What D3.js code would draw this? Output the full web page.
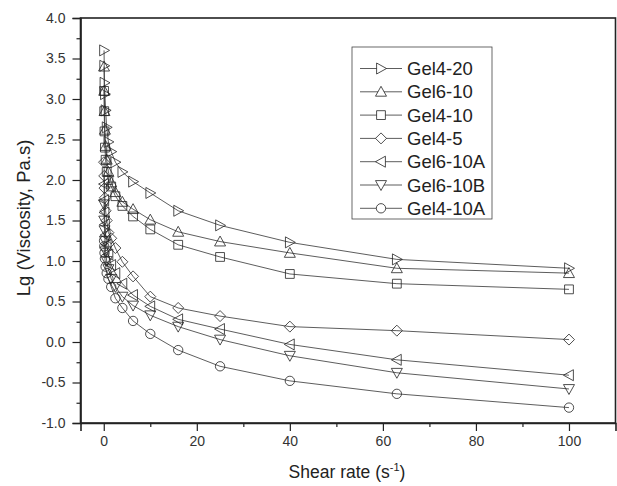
<!DOCTYPE html>
<html>
<head>
<meta charset="utf-8">
<script src="https://cdn.jsdelivr.net/npm/d3@7"></script>
<style>
  body { margin: 0; background: #fff; }
  svg { display: block; font-family: "Liberation Sans", Arial, sans-serif; }
</style>
</head>
<body>
<div id="chart"></div>
<script>
// shear rates (s^-1), shared by all samples
const shearRates = [0.063, 0.1, 0.16, 0.25, 0.4, 0.63, 1, 1.6, 2.5, 4, 6.3, 10, 16, 25, 40, 63, 100];

// lg(viscosity) for each sample
const gel4_20  = [3.60, 3.41, 3.20, 3.06, 2.86, 2.65, 2.47, 2.35, 2.22, 2.10, 1.98, 1.84, 1.62, 1.44, 1.23, 1.02, 0.91];
const gel6_10  = [3.40, 3.10, 2.85, 2.62, 2.42, 2.25, 2.10, 1.97, 1.85, 1.73, 1.64, 1.51, 1.36, 1.24, 1.10, 0.91, 0.85];
const gel4_10  = [3.10, 2.85, 2.60, 2.40, 2.25, 2.10, 2.00, 1.92, 1.80, 1.68, 1.55, 1.39, 1.20, 1.05, 0.84, 0.72, 0.65];
const gel4_5   = [2.22, 2.05, 1.90, 1.78, 1.62, 1.50, 1.35, 1.28, 1.16, 0.99, 0.81, 0.56, 0.42, 0.32, 0.19, 0.14, 0.03];
const gel6_10A = [1.95, 1.75, 1.60, 1.45, 1.32, 1.20, 1.08, 0.95, 0.85, 0.72, 0.58, 0.44, 0.28, 0.16, -0.03, -0.22, -0.41];
const gel6_10B = [1.70, 1.50, 1.38, 1.25, 1.12, 1.00, 0.90, 0.78, 0.68, 0.56, 0.45, 0.33, 0.19, 0.03, -0.17, -0.38, -0.58];
const gel4_10A = [1.25, 1.18, 1.10, 1.03, 0.93, 0.85, 0.78, 0.68, 0.54, 0.42, 0.26, 0.10, -0.10, -0.30, -0.48, -0.64, -0.81];

const seriesNames = ["Gel4-20", "Gel6-10", "Gel4-10", "Gel4-5", "Gel6-10A", "Gel6-10B", "Gel4-10A"];
const seriesValues = [gel4_20, gel6_10, gel4_10, gel4_5, gel6_10A, gel6_10B, gel4_10A];
const markerShapes = ["triRight", "triUp", "square", "diamond", "triLeft", "triDown", "circle"];

const xTicks = [0, 20, 40, 60, 80, 100];
const yTicks = [-1.0, -0.5, 0.0, 0.5, 1.0, 1.5, 2.0, 2.5, 3.0, 3.5, 4.0];

const W = 617, H = 486;
const plot = { left: 80.5, right: 615.5, top: 18, bottom: 423 };

const svg = d3.select("#chart").append("svg")
    .attr("width", W)
    .attr("height", H);

const x = d3.scaleLinear().domain([-5, 110]).range([plot.left, plot.right]);
const y = d3.scaleLinear().domain([-1, 4]).range([plot.bottom, plot.top]);

// marker path generator
function markerPath(shape, s) {
    const h = s / 2;
    switch (shape) {
        case "triRight": return `M${-h * 0.8},${-h}L${h},0L${-h * 0.8},${h}Z`;
        case "triLeft":  return `M${h * 0.8},${-h}L${-h},0L${h * 0.8},${h}Z`;
        case "triUp":    return `M${-h},${h * 0.8}L0,${-h}L${h},${h * 0.8}Z`;
        case "triDown":  return `M${-h},${-h * 0.8}L0,${h}L${h},${-h * 0.8}Z`;
        case "square":   return `M${-h * 0.8},${-h * 0.8}H${h * 0.8}V${h * 0.8}H${-h * 0.8}Z`;
        case "diamond":  return `M0,${-h}L${h},0L0,${h}L${-h},0Z`;
        case "circle":   return d3.symbol(d3.symbolCircle, Math.PI * (h * 0.85) * (h * 0.85))();
    }
}

// frame
svg.append("rect")
    .attr("x", plot.left).attr("y", plot.top)
    .attr("width", plot.right - plot.left).attr("height", plot.bottom - plot.top)
    .attr("fill", "none").attr("stroke", "#222").attr("stroke-width", 1.6);

// x axis
svg.append("g")
    .attr("transform", `translate(0,${plot.bottom})`)
    .call(d3.axisBottom(x).tickValues(xTicks).tickFormat(d => String(d)).tickSize(8).tickPadding(5));
svg.append("g")
    .attr("transform", `translate(0,${plot.bottom})`)
    .call(d3.axisBottom(x).tickValues([10, 30, 50, 70, 90]).tickFormat("").tickSize(4))
    .call(g => g.select(".domain").remove());

// y axis
svg.append("g")
    .attr("transform", `translate(${plot.left},0)`)
    .call(d3.axisLeft(y).tickValues(yTicks).tickFormat(d => d.toFixed(1)).tickSize(8).tickPadding(7));
svg.append("g")
    .attr("transform", `translate(${plot.left},0)`)
    .call(d3.axisLeft(y).tickValues(d3.range(-0.75, 4, 0.5)).tickFormat("").tickSize(4))
    .call(g => g.select(".domain").remove());

svg.selectAll(".domain").attr("stroke", "#222").attr("stroke-width", 1.6);
svg.selectAll(".tick line").attr("stroke", "#222").attr("stroke-width", 1.2);
svg.selectAll(".tick text")
    .attr("font-family", "Liberation Sans, Arial, sans-serif")
    .attr("font-size", 14)
    .attr("fill", "#333");

// axis titles
const xt = svg.append("text")
    .attr("x", 347).attr("y", 478)
    .attr("text-anchor", "middle")
    .attr("font-size", 17.5).attr("fill", "#222");
xt.append("tspan").text("Shear rate (s");
xt.append("tspan").attr("font-size", 11).attr("dy", -7).text("-1");
xt.append("tspan").attr("dy", 7).text(")");

svg.append("text")
    .attr("transform", "translate(30,218) rotate(-90)")
    .attr("text-anchor", "middle")
    .attr("font-size", 18.5).attr("fill", "#222")
    .text("Lg (Viscosity, Pa.s)");

// data lines and markers
const line = d3.line()
    .x((d, i) => x(shearRates[i]))
    .y(d => y(d));

const plotG = svg.append("g");
seriesValues.forEach((vals, k) => {
    plotG.append("path")
        .datum(vals)
        .attr("fill", "none")
        .attr("stroke", "#333")
        .attr("stroke-width", 0.8)
        .attr("d", line);
    plotG.selectAll(null)
        .data(vals)
        .enter().append("path")
        .attr("transform", (d, i) => `translate(${x(shearRates[i])},${y(d)})`)
        .attr("d", markerPath(markerShapes[k], 11))
        .attr("fill", "none")
        .attr("stroke", "#222")
        .attr("stroke-width", 0.8);
});

// legend
const legend = svg.append("g").attr("transform", "translate(352,47)");
legend.append("rect")
    .attr("width", 140).attr("height", 172)
    .attr("fill", "#fff").attr("stroke", "#444").attr("stroke-width", 0.8);
seriesNames.forEach((name, k) => {
    const row = legend.append("g").attr("transform", `translate(0,${21.5 + k * 23.3})`);
    row.append("line")
        .attr("x1", 8).attr("x2", 50).attr("y1", 0).attr("y2", 0)
        .attr("stroke", "#333").attr("stroke-width", 0.8);
    row.append("path")
        .attr("transform", "translate(29,0)")
        .attr("d", markerPath(markerShapes[k], 11))
        .attr("fill", "#fff").attr("stroke", "#222").attr("stroke-width", 0.8);
    row.append("text")
        .attr("x", 55).attr("y", 6.5)
        .attr("font-size", 18.5).attr("fill", "#222")
        .text(name);
});
</script>
</body>
</html>
